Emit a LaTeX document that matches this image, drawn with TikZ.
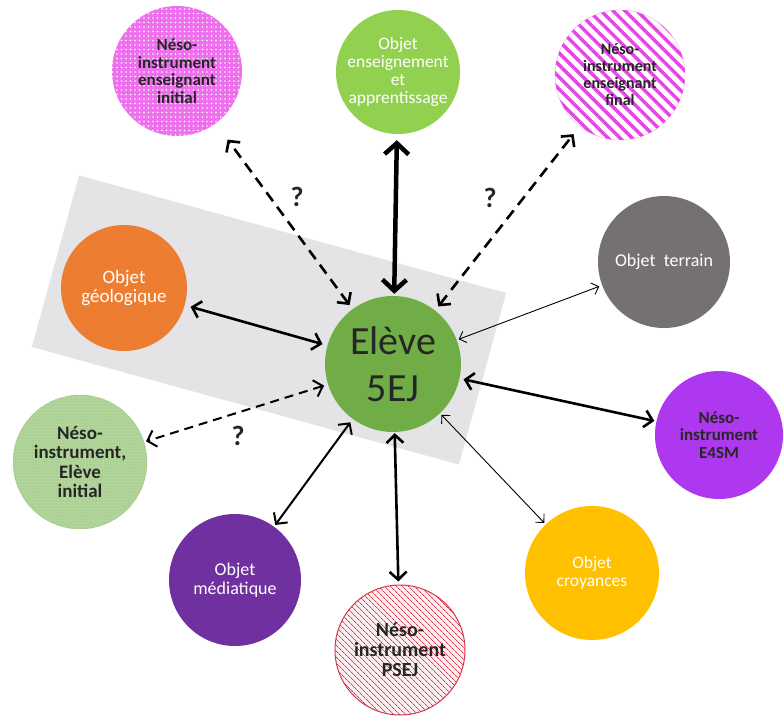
\documentclass[tikz,border=0pt]{standalone}
\usepackage{fontspec}
\setmainfont{Carlito}
\usepackage{xcolor}
\usetikzlibrary{arrows.meta,patterns.meta}
\definecolor{eleveGreen}{HTML}{70AD47}
\definecolor{objGreen}{HTML}{92D050}
\definecolor{geoOrange}{HTML}{ED7D31}
\definecolor{terrainGray}{HTML}{767171}
\definecolor{esmViolet}{HTML}{AE38F0}
\definecolor{mediaPurple}{HTML}{7030A0}
\definecolor{croyYellow}{HTML}{FFC000}
\definecolor{nesoPink}{HTML}{EE70EE}
\definecolor{stripePink}{HTML}{E048E0}
\definecolor{psejRed}{HTML}{D63A4A}
\definecolor{initGreen}{HTML}{B2D69A}
\definecolor{initDark}{HTML}{6E9A55}
\definecolor{bandGray}{HTML}{E4E4E6}
\definecolor{textDark}{HTML}{262626}
\tikzset{
  bubble/.style={
    circle,
    minimum size=130pt,
    inner sep=0pt,
    align=center,
    text=white,
    font=\fontsize{17.5}{18}\selectfont
  },
  darkbubble/.style={
    bubble,
    text=textDark,
    font=\fontsize{17}{17.5}\selectfont\bfseries
  },
  band/.style={
    fill=bandGray,
    minimum width=443pt,
    minimum height=178pt,
    inner sep=0pt
  },
  biglink/.style={
    {Straight Barb[length=8pt,width=17pt]}-{Straight Barb[length=8pt,width=17pt]},
    line width=2.6pt,
    draw=black
  },
  thinlink/.style={
    {Straight Barb[length=6pt,width=12pt]}-{Straight Barb[length=6pt,width=12pt]},
    line width=0.9pt,
    draw=black
  },
  dashlink/.style={
    biglink,
    dash pattern=on 11pt off 7pt
  },
  question/.style={
    text=textDark,
    font=\fontsize{28}{30}\selectfont\bfseries
  }
}

\begin{document}
\begin{tikzpicture}[x=1pt,y=-1pt]
    \useasboundingbox (0,0) rectangle (784,720);
    % bande grise
    \node[band, rotate=-15.4] (band) at (269,320) {};
    % bulles
    \node[bubble, fill=eleveGreen, minimum size=136pt, text=textDark,
      font=\fontsize{40}{47}\selectfont] (eleve) at (393,364) {Elève\\5EJ};
    \node[darkbubble, fill=nesoPink,
      postaction={pattern={Dots[distance=4.5pt,radius=0.8pt]}, pattern color=white}]
      (ensinit) at (177,71) {Néso-\\instrument\\enseignant\\initial};
    \node[bubble, fill=objGreen, minimum size=124pt] (ensapp) at (398,72)
      {Objet\\enseignement\\et\\apprentissage};
    \node[darkbubble, draw=nesoPink!60, fill=white, font=\fontsize{16}{17}\selectfont\bfseries,
      postaction={pattern={Lines[angle=-45,distance=8.5pt,line width=3.4pt]}, pattern color=stripePink}]
      (ensfin) at (620,75) {Néso-\\instrument\\enseignant\\final};
    \node[bubble, fill=geoOrange, minimum size=126pt, font=\fontsize{19}{18.5}\selectfont] (geo) at (124,288) {Objet\\géologique};
    \node[bubble, fill=terrainGray, minimum size=132pt, font=\fontsize{18}{18}\selectfont] (terrain) at (664,262) {Objet\ \ terrain};
    \node[darkbubble, fill=esmViolet, minimum size=128pt] (esm) at (719,435) {Néso-\\instrument\\E4SM};
    \node[bubble, fill=croyYellow, minimum size=134pt] (croy) at (592,573) {Objet\\croyances};
    \node[darkbubble, draw=psejRed, line width=1pt, fill=psejRed!8, font=\fontsize{20}{20}\selectfont\bfseries,
      postaction={pattern={Lines[angle=-45,distance=4pt,line width=0.8pt]}, pattern color=psejRed}]
      (psej) at (400,650) {Néso-\\instrument\\PSEJ};
    \node[bubble, fill=mediaPurple, minimum size=132pt, font=\fontsize{18}{18.5}\selectfont] (media) at (235,580) {Objet\\médiatique};
    \node[darkbubble, draw=initDark, densely dotted, fill=initGreen, minimum size=134pt,
      font=\fontsize{19}{19.5}\selectfont\bfseries,
      postaction={pattern={Dots[distance=3pt,radius=0.6pt]}, pattern color=initDark!70}]
      (elinit) at (80,462) {Néso-\\instrument,\\Elève\\initial};
    % liens
    \draw[dashlink, shorten <=5pt, shorten >=20pt] (eleve) -- (ensinit);
    \draw[biglink, line width=4.5pt, arrows={{Straight Barb[length=11pt,width=24pt]}-{Straight Barb[length=11pt,width=24pt]}},
      shorten <=2pt, shorten >=6pt] (eleve) -- (ensapp);
    \draw[dashlink, shorten <=5pt, shorten >=10pt] (eleve) -- (ensfin);
    \draw[biglink, shorten <=5pt, shorten >=6pt] (eleve) -- (geo);
    \draw[thinlink, shorten <=2pt, shorten >=3pt] (eleve) -- (terrain);
    \draw[biglink, shorten <=4pt, shorten >=2pt] (eleve) -- (esm);
    \draw[thinlink, shorten <=2pt, shorten >=2pt] (eleve) -- (croy);
    \draw[biglink, shorten <=1pt, shorten >=3pt] (eleve) -- (psej);
    \draw[biglink, line width=2pt, shorten <=4pt, shorten >=2pt] (eleve) -- (media);
    \draw[dashlink, line width=2pt, dash pattern=on 9pt off 6pt, shorten <=4pt, shorten >=2pt] (eleve) -- (elinit);
    % points d'interrogation
    \node[question] (q1) at (297,197) {?};
    \node[question] (q2) at (490,198) {?};
    \node[question] (q3) at (238,436) {?};
  \end{tikzpicture}
\end{document}
